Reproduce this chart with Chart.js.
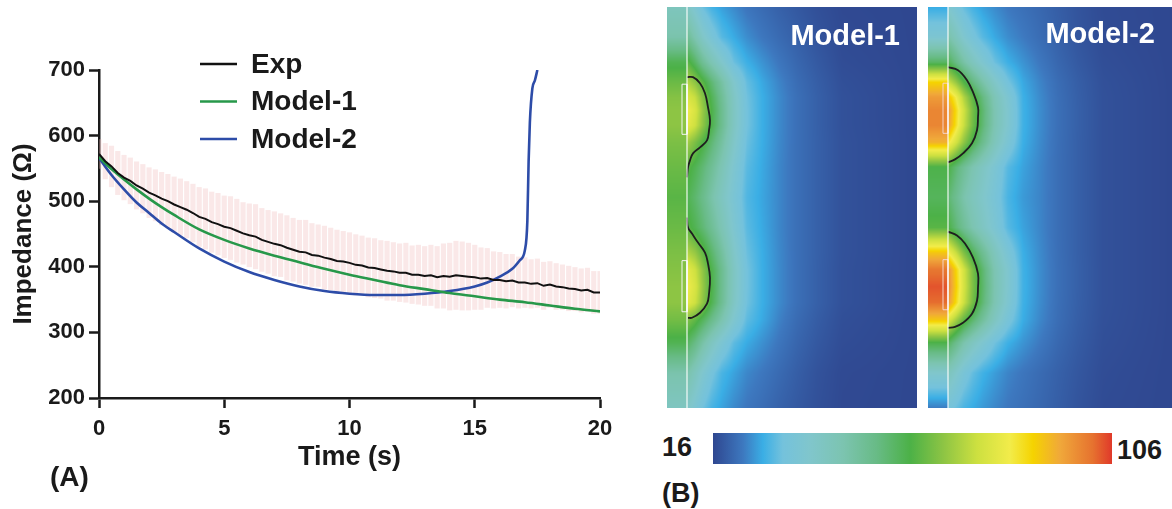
<!DOCTYPE html>
<html>
<head>
<meta charset="utf-8">
<script src="https://cdn.jsdelivr.net/npm/chart.js@4.4.1/dist/chart.umd.min.js"></script>
<style>
  body { margin: 0; width: 1172px; height: 509px; overflow: hidden; background: #fff; position: relative; }
  .box { position: absolute; }
  .lbl { position: absolute; font: bold 28px 'Liberation Sans', Arial, sans-serif; color: #1a1a1a; line-height: 1; white-space: nowrap; }
</style>
</head>
<body>
<div class="box" style="left:0;top:0;width:650px;height:509px"><canvas id="chartA"></canvas></div>
<div class="box" style="left:667px;top:7px;width:250px;height:401px"><canvas id="heat1"></canvas></div>
<div class="box" style="left:928px;top:7px;width:250px;height:401px"><canvas id="heat2"></canvas></div>
<div class="box" style="left:713px;top:433px;width:399px;height:31px"><canvas id="cbar"></canvas></div>
<div class="lbl" style="left:50px;top:463px">(A)</div>
<div class="lbl" style="left:662px;top:480px;font-size:27px">(B)</div>
<div class="lbl" style="left:662px;top:434px;font-size:27px">16</div>
<div class="lbl" style="left:1117px;top:437px;font-size:27px">106</div>
<script>
// ---- panel A data ----
var expTime = [0,0.25,0.5,0.75,1,1.25,1.5,1.75,2,2.25,2.5,2.75,3,3.25,3.5,3.75,
  4,4.25,4.5,4.75,5,5.25,5.5,5.75,6,6.25,6.5,6.75,7,7.25,7.5,7.75,
  8,8.25,8.5,8.75,9,9.25,9.5,9.75,10,10.25,10.5,10.75,11,11.25,11.5,11.75,
  12,12.25,12.5,12.75,13,13.25,13.5,13.75,14,14.25,14.5,14.75,15,15.25,15.5,15.75,
  16,16.25,16.5,16.75,17,17.25,17.5,17.75,18,18.25,18.5,18.75,19,19.25,19.5,19.75,20];
var expImp = [572,561,553,543,536,531,524,519,513,509,504,500,495,491,487,482,
  476,473,468,465,461,459,455,451,448,446,441,438,435,433,429,426,
  423,422,418,417,414,412,409,408,406,403,402,399,398,396,394,393,
  391,391,388,388,386,387,384,386,385,387,386,385,384,382,383,380,
  380,378,379,376,376,374,375,371,373,370,369,367,366,364,365,361,361];
var expSd = [22,27,31,33,34,35,36,37,38,39,40,41,42,43,43,44,
  45,46,46,47,47,48,48,47,48,49,48,48,49,48,49,48,
  48,49,48,47,48,47,47,46,46,46,45,45,45,44,45,44,
  44,45,44,45,45,46,47,49,51,52,52,51,49,47,45,43,
  42,41,40,39,38,37,37,36,35,35,34,34,33,33,33,32,32];

var m1Time = [0,0.5,1,1.5,2,2.5,3,4,5,6,7,8,9,10,11,12,13,14,15,16,17,18,19,20];
var m1Imp = [567,549,533,518,504,491,479,457,441,428,417,407,397,388,380,372,366,360,355,350,346,341,336,332];

var m2Time = [0,0.5,1,1.5,2,2.5,3,4,5,6,7,8,9,10,11,12,13,14,15,15.5,16,16.5,16.8,17,17.1,17.15,17.2,17.3,17.4,17.5];
var m2Imp = [566,540,518,498,482,466,453,428,408,392,380,370,363,359,357,357,359,363,370,376,385,397,410,425,470,560,620,672,684,700];

var yTicks = [200, 700, 100];   // min, max, step
var xTicks = [0, 20, 5];

// ---- panel B data (field values in colour-bar units, local px grid) ----
var cbMin = 16, cbMax = 106;
var cbStops = [0, 0.075, 0.125, 0.175, 0.243, 0.326, 0.41, 0.494, 0.576, 0.662, 0.744, 0.802, 0.87, 0.952, 1];
var cbColors = ['#2f4790','#3d78bf','#3aaee5','#74c2dc','#80c6cc','#7cc4b0','#68bb86','#4cb147',
  '#8cc444','#cde040','#f2ec4a','#f5d300','#f0a83a','#e6722f','#e0392a'];

var fieldRows = [0,30,55,75,90,103,118,135,160,190,220,245,262,279,295,312,335,365,400];
var fieldCols = [21,28,36,45,55,67,80,95,112,130,150,175,250];
var stripWidth = 20;

var model1Strip = [42,46,59,64,67,68,68,66,64,62,64,66,67,68,68,65,59,46,41];
var model1Field = [
  [40,36,31,28,26,24.2,22.3,21,19.6,18.4,17.2,16.3,16],
  [50,45,39,34,29.5,27,24.5,22.6,20.9,19.4,17.8,16.5,16],
  [62,57,50,44,38,31,27.5,25,22.5,20.4,18.6,16.8,16],
  [72,68,62,55,47.5,38,30.5,26.8,23.8,21.2,19.2,17.2,16],
  [78,75,67,58.5,50,40,31.5,27.4,24.3,21.6,19.5,17.4,16],
  [82,78,69,60,51,40.5,31.8,27.4,24.3,21.6,19.5,17.4,16],
  [80,76,68,59.5,51,40.5,31.8,27.4,24.3,21.6,19.5,17.4,16],
  [70,66,61,55,48,39,31,27.3,24.2,21.6,19.6,17.5,16],
  [62,59,55,50,44,36.5,29.8,26.9,24,21.6,19.6,17.5,16],
  [59,56,52,46.5,41,35,29,26.6,24,21.6,19.6,17.5,16],
  [62,59,55,50,44,36.5,29.8,26.9,24,21.6,19.6,17.5,16],
  [72,69,63,56,48.5,39,31,27.3,24.2,21.6,19.6,17.5,16],
  [80,76,68,59.5,51,40.5,31.8,27.4,24.3,21.6,19.5,17.4,16],
  [82,78,69,60,51,40.5,31.8,27.4,24.3,21.6,19.5,17.4,16],
  [80,76,68,59,50.5,40,31.5,27.4,24.3,21.6,19.5,17.4,16],
  [66,63,58,52,45.5,37,30,26.9,23.6,21,19,17.1,16],
  [57,53,47,41,35.5,30,27,24.8,22.4,20.2,18.4,16.8,16],
  [46,42,37,32.5,28.5,26.3,24,22.6,20.9,19.2,17.6,16.4,16],
  [39,36,31.5,28.3,26.3,24.2,22.5,21.3,19.8,18.5,17.3,16.3,16]
];
var model2Strip = [27,36,57,88,96,99,99,93,60,58,62,90,101,104,102,90,60,38,23];
var model2Field = [
  [37,34,30.5,28,26,24.3,22.7,21.6,20.5,19.2,17.8,16.6,16],
  [46,42,37,33,29.5,26.8,24.5,22.9,21.2,19.6,18,16.7,16],
  [58,53,47,41.5,36.5,31,27.5,25,22.6,20.4,18.6,17,16],
  [75,69,61,53.5,46.5,39,32,26.8,23.8,21.2,19.2,17.3,16],
  [90,83,72,62.5,53.5,43.5,36,27.6,24.3,21.5,19.4,17.4,16],
  [96,87,76,65,55.5,44.5,37,27.8,24.5,21.6,19.5,17.4,16],
  [95,86,75,64.5,55,44.5,37,27.8,24.5,21.6,19.5,17.4,16],
  [84,77,68,59.5,51.5,42.5,35,27.4,24.3,21.5,19.4,17.4,16],
  [60,55,50,45,40.5,35.5,29.5,26.3,23.9,21.4,19.4,17.4,16],
  [55,51,46,42,38.5,34,28.5,25.6,23.8,21.4,19.4,17.4,16],
  [60,55,50,45,40.5,35.5,29.5,26.3,23.9,21.4,19.4,17.4,16],
  [82,75,66,58,50.5,42,34.5,27.4,24.3,21.5,19.4,17.4,16],
  [97,88,76.5,65.5,55.5,44.5,37,27.8,24.5,21.6,19.5,17.4,16],
  [98,89,77,66,56,45,37,27.9,24.5,21.6,19.5,17.4,16],
  [96,87,75.5,65,55,44.5,36.5,27.7,24.4,21.5,19.4,17.4,16],
  [78,71,63,56,49,41,33.5,27.2,24,21.3,19.2,17.3,16],
  [57,52,46,41,36.5,31.5,27.6,25.1,22.8,20.6,18.8,17.1,16],
  [42,38.5,34,30.5,27.8,25.8,23.8,22.4,21,19.6,18.2,16.8,16],
  [33,31,28.5,27,25.5,24,22.6,21.6,20.5,19.2,17.8,16.6,16]
];

// contour lines and electrode outlines
var m1ContourA = { x: [20,26,33,38,41,43,42,40,33,26,23,21,20], y: [70,70,76,86,100,113,123,133,140,146,153,160,170] };
var m1ContourB = { x: [20,21,25,31,38,41,43,42,40,33,25,21], y: [210,220,226,235,245,256,270,286,296,305,310,310] };
var m2ContourA = { x: [20,30,39,45,50,50,49,44,35,27,20], y: [60,63,73,85,100,110,123,136,146,152,155] };
var m2ContourB = { x: [20,29,37,45,50,50,49,44,35,27,20], y: [224,228,236,250,266,280,293,306,315,319,320] };
var m1Electrodes = [[15,20,77,127],[15,20,253,304]];
var m2Electrodes = [[15,20,76,126],[15,20,252,302]];

var FONT = "'Liberation Sans', Arial, sans-serif";
var INK = '#1a1a1a';

function hexRgb(h) {
  return [parseInt(h.slice(1,3),16), parseInt(h.slice(3,5),16), parseInt(h.slice(5,7),16)];
}
var cbRgb = cbColors.map(hexRgb);

function colourFor(v) {
  var f = (v - cbMin) / (cbMax - cbMin);
  if (f <= 0) return cbRgb[0];
  if (f >= 1) return cbRgb[cbRgb.length - 1];
  var i = 0;
  while (i < cbStops.length - 2 && f > cbStops[i + 1]) i++;
  var t = (f - cbStops[i]) / (cbStops[i + 1] - cbStops[i]);
  var a = cbRgb[i], b = cbRgb[i + 1];
  return [a[0] + (b[0]-a[0])*t, a[1] + (b[1]-a[1])*t, a[2] + (b[2]-a[2])*t];
}

function findIdx(arr, v) {
  var i = 0;
  while (i < arr.length - 2 && v > arr[i + 1]) i++;
  var t = (v - arr[i]) / (arr[i + 1] - arr[i]);
  return [i, Math.max(0, Math.min(1, t))];
}

function fieldAt(strip, field, x, y) {
  var r = findIdx(fieldRows, y);
  if (x < stripWidth) {
    return strip[r[0]] + (strip[r[0]+1] - strip[r[0]]) * r[1];
  }
  var c = findIdx(fieldCols, x);
  var a = field[r[0]], b = field[r[0]+1];
  var top = a[c[0]] + (a[c[0]+1] - a[c[0]]) * c[1];
  var bot = b[c[0]] + (b[c[0]+1] - b[c[0]]) * c[1];
  return top + (bot - top) * r[1];
}

// ---- panel A ----
var legendPlugin = {
  id: 'insideLegend',
  afterDraw: function(chart) {
    var ctx = chart.ctx;
    var items = chart.data.datasets.filter(function(d) { return d.type !== 'bar'; });
    ctx.save();
    ctx.font = 'bold 28px ' + FONT;
    ctx.textBaseline = 'middle';
    ctx.fillStyle = INK;
    items.forEach(function(d, i) {
      var y = 64 + i * 37.5;
      ctx.strokeStyle = d.borderColor;
      ctx.lineWidth = 2.7;
      ctx.beginPath(); ctx.moveTo(200, y); ctx.lineTo(237, y); ctx.stroke();
      ctx.fillText(d.label, 251, y + 1);
    });
    ctx.restore();
  }
};

new Chart(document.getElementById('chartA'), {
  type: 'line',
  data: {
    datasets: [
      {
        type: 'bar',
        label: 'SD',
        data: expTime.map(function(t, i) { return { x: t, y: [expImp[i] - expSd[i], expImp[i] + expSd[i]] }; }),
        backgroundColor: 'rgba(240,185,185,0.32)',
        barThickness: 4.5,
        order: 5
      },
      {
        label: 'Exp',
        data: expTime.map(function(t, i) { return { x: t, y: expImp[i] }; }),
        borderColor: '#111111',
        borderWidth: 2,
        pointRadius: 0,
        tension: 0,
        order: 1
      },
      {
        label: 'Model-1',
        data: m1Time.map(function(t, i) { return { x: t, y: m1Imp[i] }; }),
        borderColor: '#27984a',
        borderWidth: 2.6,
        pointRadius: 0,
        cubicInterpolationMode: 'monotone',
        order: 2
      },
      {
        label: 'Model-2',
        data: m2Time.map(function(t, i) { return { x: t, y: m2Imp[i] }; }),
        borderColor: '#2d4ca8',
        borderWidth: 2.6,
        pointRadius: 0,
        cubicInterpolationMode: 'monotone',
        order: 3
      }
    ]
  },
  options: {
    animation: false,
    responsive: true,
    maintainAspectRatio: false,
    layout: { padding: { top: 70, right: 50, bottom: 0, left: 0 } },
    plugins: { legend: { display: false }, tooltip: { enabled: false } },
    scales: {
      x: {
        type: 'linear', min: xTicks[0], max: xTicks[1], offset: false,
        ticks: { stepSize: xTicks[2], color: INK, padding: 8, font: { family: FONT, size: 22, weight: 'bold' } },
        grid: { drawOnChartArea: false, offset: false, tickLength: 10, tickWidth: 2.5, tickColor: INK },
        border: { color: INK, width: 2.5 },
        title: { display: true, text: 'Time (s)', color: INK, padding: { top: 0, bottom: 35 },
          font: { family: FONT, size: 27, weight: 'bold' } },
        afterFit: function(s) { s.height = 111; }
      },
      y: {
        type: 'linear', min: yTicks[0], max: yTicks[1],
        ticks: { stepSize: yTicks[2], color: INK, padding: 4, font: { family: FONT, size: 22, weight: 'bold' } },
        grid: { drawOnChartArea: false, tickLength: 10, tickWidth: 2.5, tickColor: INK },
        border: { color: INK, width: 2.5 },
        title: { display: true, text: 'Impedance (\u03A9)', color: INK, padding: { top: 8, bottom: 0 },
          font: { family: FONT, size: 26, weight: 'bold' } },
        afterFit: function(s) { s.width = 99; }
      }
    }
  },
  plugins: [legendPlugin]
});

// ---- panel B ----
function heatPlugin(strip, field, title, titleRight, titleBase) {
  return {
    id: 'heatField',
    beforeDatasetsDraw: function(chart) {
      var a = chart.chartArea, xs = chart.scales.x, ys = chart.scales.y;
      var w = Math.round(a.right - a.left), h = Math.round(a.bottom - a.top);
      var off = document.createElement('canvas');
      off.width = w; off.height = h;
      var octx = off.getContext('2d');
      var img = octx.createImageData(w, h);
      for (var py = 0; py < h; py++) {
        var vy = ys.getValueForPixel(a.top + py + 0.5);
        for (var px = 0; px < w; px++) {
          var vx = xs.getValueForPixel(a.left + px + 0.5);
          var c = colourFor(fieldAt(strip, field, vx, vy));
          var k = (py * w + px) * 4;
          img.data[k] = c[0]; img.data[k+1] = c[1]; img.data[k+2] = c[2]; img.data[k+3] = 255;
        }
      }
      octx.putImageData(img, 0, 0);
      chart.ctx.drawImage(off, a.left, a.top);
    },
    afterDraw: function(chart) {
      var ctx = chart.ctx;
      ctx.save();
      ctx.font = 'bold 29px ' + FONT;
      ctx.fillStyle = '#ffffff';
      ctx.textAlign = 'right';
      ctx.textBaseline = 'alphabetic';
      ctx.fillText(title, chart.scales.x.getPixelForValue(titleRight), chart.scales.y.getPixelForValue(titleBase));
      ctx.restore();
    }
  };
}

function pts(c) { return c.x.map(function(x, i) { return { x: x, y: c.y[i] }; }); }
function rectPts(r) { return [{x:r[0],y:r[2]},{x:r[1],y:r[2]},{x:r[1],y:r[3]},{x:r[0],y:r[3]},{x:r[0],y:r[2]}]; }

function heatChart(id, strip, field, contours, electrodes, rectColour, title, titleRight, titleBase) {
  var ds = [{ data: [{x: stripWidth, y: 0}, {x: stripWidth, y: 400}], borderColor: 'rgba(255,255,255,0.9)', borderWidth: 1.2 }];
  contours.forEach(function(c) { ds.push({ data: pts(c), borderColor: '#1e1e1e', borderWidth: 1.8, tension: 0.4 }); });
  electrodes.forEach(function(r) { ds.push({ data: rectPts(r), borderColor: rectColour, borderWidth: 1 }); });
  ds.forEach(function(d) { d.showLine = true; d.pointRadius = 0; });
  new Chart(document.getElementById(id), {
    type: 'scatter',
    data: { datasets: ds },
    options: {
      animation: false,
      responsive: true,
      maintainAspectRatio: false,
      layout: { padding: 0 },
      plugins: { legend: { display: false }, tooltip: { enabled: false } },
      scales: {
        x: { type: 'linear', min: 0, max: 250, display: false },
        y: { type: 'linear', min: 0, max: 400, reverse: true, display: false }
      }
    },
    plugins: [heatPlugin(strip, field, title, titleRight, titleBase)]
  });
}

heatChart('heat1', model1Strip, model1Field, [m1ContourA, m1ContourB], m1Electrodes, '#f4f4f4', 'Model-1', 233, 38);
heatChart('heat2', model2Strip, model2Field, [m2ContourA, m2ContourB], m2Electrodes, '#f6d2c8', 'Model-2', 227, 36);

// colour bar
new Chart(document.getElementById('cbar'), {
  type: 'bar',
  data: { labels: [''], datasets: [{
    data: [[cbMin, cbMax]],
    barPercentage: 1,
    categoryPercentage: 1,
    backgroundColor: function(context) {
      var a = context.chart.chartArea;
      if (!a) return cbColors[0];
      var g = context.chart.ctx.createLinearGradient(a.left, 0, a.right, 0);
      cbStops.forEach(function(s, i) { g.addColorStop(s, cbColors[i]); });
      return g;
    }
  }] },
  options: {
    indexAxis: 'y',
    animation: false,
    responsive: true,
    maintainAspectRatio: false,
    layout: { padding: 0 },
    plugins: { legend: { display: false }, tooltip: { enabled: false } },
    scales: {
      x: { type: 'linear', min: cbMin, max: cbMax, display: false },
      y: { display: false }
    }
  }
});
</script>
</body>
</html>
